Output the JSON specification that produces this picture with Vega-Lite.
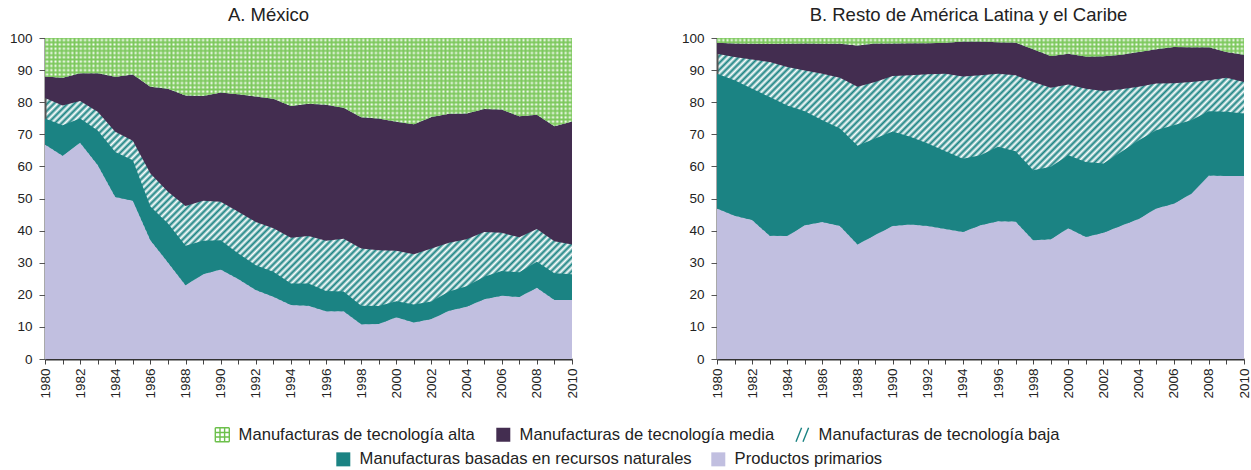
{
  "$schema": "https://vega.github.io/schema/vega-lite/v6.json",
  "background": "white",
  "padding": {"left": 9, "right": 5, "top": 5, "bottom": 5},
  "params": [
    {"name": "gridv", "value": {"gradient": "linear", "x1": 0, "y1": 0, "x2": 1, "y2": 0, "stops": [
      {"offset":0,"color":"#7cc85c"},{"offset":0.004,"color":"#fff"},{"offset":0.008,"color":"#7cc85c"},{"offset":0.012,"color":"#fff"},{"offset":0.016,"color":"#7cc85c"},{"offset":0.02,"color":"#fff"},{"offset":0.024,"color":"#7cc85c"},{"offset":0.028,"color":"#fff"},{"offset":0.032,"color":"#7cc85c"},{"offset":0.036,"color":"#fff"},
      {"offset":0.04,"color":"#7cc85c"},{"offset":0.044,"color":"#fff"},{"offset":0.048,"color":"#7cc85c"},{"offset":0.052,"color":"#fff"},{"offset":0.056,"color":"#7cc85c"},{"offset":0.06,"color":"#fff"},{"offset":0.064,"color":"#7cc85c"},{"offset":0.068,"color":"#fff"},{"offset":0.072,"color":"#7cc85c"},{"offset":0.076,"color":"#fff"},
      {"offset":0.08,"color":"#7cc85c"},{"offset":0.084,"color":"#fff"},{"offset":0.088,"color":"#7cc85c"},{"offset":0.092,"color":"#fff"},{"offset":0.096,"color":"#7cc85c"},{"offset":0.1,"color":"#fff"},{"offset":0.104,"color":"#7cc85c"},{"offset":0.108,"color":"#fff"},{"offset":0.112,"color":"#7cc85c"},{"offset":0.116,"color":"#fff"},
      {"offset":0.12,"color":"#7cc85c"},{"offset":0.124,"color":"#fff"},{"offset":0.128,"color":"#7cc85c"},{"offset":0.132,"color":"#fff"},{"offset":0.136,"color":"#7cc85c"},{"offset":0.14,"color":"#fff"},{"offset":0.144,"color":"#7cc85c"},{"offset":0.148,"color":"#fff"},{"offset":0.152,"color":"#7cc85c"},{"offset":0.156,"color":"#fff"},
      {"offset":0.16,"color":"#7cc85c"},{"offset":0.164,"color":"#fff"},{"offset":0.168,"color":"#7cc85c"},{"offset":0.172,"color":"#fff"},{"offset":0.176,"color":"#7cc85c"},{"offset":0.18,"color":"#fff"},{"offset":0.184,"color":"#7cc85c"},{"offset":0.188,"color":"#fff"},{"offset":0.192,"color":"#7cc85c"},{"offset":0.196,"color":"#fff"},
      {"offset":0.2,"color":"#7cc85c"},{"offset":0.204,"color":"#fff"},{"offset":0.208,"color":"#7cc85c"},{"offset":0.212,"color":"#fff"},{"offset":0.216,"color":"#7cc85c"},{"offset":0.22,"color":"#fff"},{"offset":0.224,"color":"#7cc85c"},{"offset":0.228,"color":"#fff"},{"offset":0.232,"color":"#7cc85c"},{"offset":0.236,"color":"#fff"},
      {"offset":0.24,"color":"#7cc85c"},{"offset":0.244,"color":"#fff"},{"offset":0.248,"color":"#7cc85c"},{"offset":0.252,"color":"#fff"},{"offset":0.256,"color":"#7cc85c"},{"offset":0.26,"color":"#fff"},{"offset":0.264,"color":"#7cc85c"},{"offset":0.268,"color":"#fff"},{"offset":0.272,"color":"#7cc85c"},{"offset":0.276,"color":"#fff"},
      {"offset":0.28,"color":"#7cc85c"},{"offset":0.284,"color":"#fff"},{"offset":0.288,"color":"#7cc85c"},{"offset":0.292,"color":"#fff"},{"offset":0.296,"color":"#7cc85c"},{"offset":0.3,"color":"#fff"},{"offset":0.304,"color":"#7cc85c"},{"offset":0.308,"color":"#fff"},{"offset":0.312,"color":"#7cc85c"},{"offset":0.316,"color":"#fff"},
      {"offset":0.32,"color":"#7cc85c"},{"offset":0.324,"color":"#fff"},{"offset":0.328,"color":"#7cc85c"},{"offset":0.332,"color":"#fff"},{"offset":0.336,"color":"#7cc85c"},{"offset":0.34,"color":"#fff"},{"offset":0.344,"color":"#7cc85c"},{"offset":0.348,"color":"#fff"},{"offset":0.352,"color":"#7cc85c"},{"offset":0.356,"color":"#fff"},
      {"offset":0.36,"color":"#7cc85c"},{"offset":0.364,"color":"#fff"},{"offset":0.368,"color":"#7cc85c"},{"offset":0.372,"color":"#fff"},{"offset":0.376,"color":"#7cc85c"},{"offset":0.38,"color":"#fff"},{"offset":0.384,"color":"#7cc85c"},{"offset":0.388,"color":"#fff"},{"offset":0.392,"color":"#7cc85c"},{"offset":0.396,"color":"#fff"},
      {"offset":0.4,"color":"#7cc85c"},{"offset":0.404,"color":"#fff"},{"offset":0.408,"color":"#7cc85c"},{"offset":0.412,"color":"#fff"},{"offset":0.416,"color":"#7cc85c"},{"offset":0.42,"color":"#fff"},{"offset":0.424,"color":"#7cc85c"},{"offset":0.428,"color":"#fff"},{"offset":0.432,"color":"#7cc85c"},{"offset":0.436,"color":"#fff"},
      {"offset":0.44,"color":"#7cc85c"},{"offset":0.444,"color":"#fff"},{"offset":0.448,"color":"#7cc85c"},{"offset":0.452,"color":"#fff"},{"offset":0.456,"color":"#7cc85c"},{"offset":0.46,"color":"#fff"},{"offset":0.464,"color":"#7cc85c"},{"offset":0.468,"color":"#fff"},{"offset":0.472,"color":"#7cc85c"},{"offset":0.476,"color":"#fff"},
      {"offset":0.48,"color":"#7cc85c"},{"offset":0.484,"color":"#fff"},{"offset":0.488,"color":"#7cc85c"},{"offset":0.492,"color":"#fff"},{"offset":0.496,"color":"#7cc85c"},{"offset":0.5,"color":"#fff"},{"offset":0.504,"color":"#7cc85c"},{"offset":0.508,"color":"#fff"},{"offset":0.512,"color":"#7cc85c"},{"offset":0.516,"color":"#fff"},
      {"offset":0.52,"color":"#7cc85c"},{"offset":0.524,"color":"#fff"},{"offset":0.528,"color":"#7cc85c"},{"offset":0.532,"color":"#fff"},{"offset":0.536,"color":"#7cc85c"},{"offset":0.54,"color":"#fff"},{"offset":0.544,"color":"#7cc85c"},{"offset":0.548,"color":"#fff"},{"offset":0.552,"color":"#7cc85c"},{"offset":0.556,"color":"#fff"},
      {"offset":0.56,"color":"#7cc85c"},{"offset":0.564,"color":"#fff"},{"offset":0.568,"color":"#7cc85c"},{"offset":0.572,"color":"#fff"},{"offset":0.576,"color":"#7cc85c"},{"offset":0.58,"color":"#fff"},{"offset":0.584,"color":"#7cc85c"},{"offset":0.588,"color":"#fff"},{"offset":0.592,"color":"#7cc85c"},{"offset":0.596,"color":"#fff"},
      {"offset":0.6,"color":"#7cc85c"},{"offset":0.604,"color":"#fff"},{"offset":0.608,"color":"#7cc85c"},{"offset":0.612,"color":"#fff"},{"offset":0.616,"color":"#7cc85c"},{"offset":0.62,"color":"#fff"},{"offset":0.624,"color":"#7cc85c"},{"offset":0.628,"color":"#fff"},{"offset":0.632,"color":"#7cc85c"},{"offset":0.636,"color":"#fff"},
      {"offset":0.64,"color":"#7cc85c"},{"offset":0.644,"color":"#fff"},{"offset":0.648,"color":"#7cc85c"},{"offset":0.652,"color":"#fff"},{"offset":0.656,"color":"#7cc85c"},{"offset":0.66,"color":"#fff"},{"offset":0.664,"color":"#7cc85c"},{"offset":0.668,"color":"#fff"},{"offset":0.672,"color":"#7cc85c"},{"offset":0.676,"color":"#fff"},
      {"offset":0.68,"color":"#7cc85c"},{"offset":0.684,"color":"#fff"},{"offset":0.688,"color":"#7cc85c"},{"offset":0.692,"color":"#fff"},{"offset":0.696,"color":"#7cc85c"},{"offset":0.7,"color":"#fff"},{"offset":0.704,"color":"#7cc85c"},{"offset":0.708,"color":"#fff"},{"offset":0.712,"color":"#7cc85c"},{"offset":0.716,"color":"#fff"},
      {"offset":0.72,"color":"#7cc85c"},{"offset":0.724,"color":"#fff"},{"offset":0.728,"color":"#7cc85c"},{"offset":0.732,"color":"#fff"},{"offset":0.736,"color":"#7cc85c"},{"offset":0.74,"color":"#fff"},{"offset":0.744,"color":"#7cc85c"},{"offset":0.748,"color":"#fff"},{"offset":0.752,"color":"#7cc85c"},{"offset":0.756,"color":"#fff"},
      {"offset":0.76,"color":"#7cc85c"},{"offset":0.764,"color":"#fff"},{"offset":0.768,"color":"#7cc85c"},{"offset":0.772,"color":"#fff"},{"offset":0.776,"color":"#7cc85c"},{"offset":0.78,"color":"#fff"},{"offset":0.784,"color":"#7cc85c"},{"offset":0.788,"color":"#fff"},{"offset":0.792,"color":"#7cc85c"},{"offset":0.796,"color":"#fff"},
      {"offset":0.8,"color":"#7cc85c"},{"offset":0.804,"color":"#fff"},{"offset":0.808,"color":"#7cc85c"},{"offset":0.812,"color":"#fff"},{"offset":0.816,"color":"#7cc85c"},{"offset":0.82,"color":"#fff"},{"offset":0.824,"color":"#7cc85c"},{"offset":0.828,"color":"#fff"},{"offset":0.832,"color":"#7cc85c"},{"offset":0.836,"color":"#fff"},
      {"offset":0.84,"color":"#7cc85c"},{"offset":0.844,"color":"#fff"},{"offset":0.848,"color":"#7cc85c"},{"offset":0.852,"color":"#fff"},{"offset":0.856,"color":"#7cc85c"},{"offset":0.86,"color":"#fff"},{"offset":0.864,"color":"#7cc85c"},{"offset":0.868,"color":"#fff"},{"offset":0.872,"color":"#7cc85c"},{"offset":0.876,"color":"#fff"},
      {"offset":0.88,"color":"#7cc85c"},{"offset":0.884,"color":"#fff"},{"offset":0.888,"color":"#7cc85c"},{"offset":0.892,"color":"#fff"},{"offset":0.896,"color":"#7cc85c"},{"offset":0.9,"color":"#fff"},{"offset":0.904,"color":"#7cc85c"},{"offset":0.908,"color":"#fff"},{"offset":0.912,"color":"#7cc85c"},{"offset":0.916,"color":"#fff"},
      {"offset":0.92,"color":"#7cc85c"},{"offset":0.924,"color":"#fff"},{"offset":0.928,"color":"#7cc85c"},{"offset":0.932,"color":"#fff"},{"offset":0.936,"color":"#7cc85c"},{"offset":0.94,"color":"#fff"},{"offset":0.944,"color":"#7cc85c"},{"offset":0.948,"color":"#fff"},{"offset":0.952,"color":"#7cc85c"},{"offset":0.956,"color":"#fff"},
      {"offset":0.96,"color":"#7cc85c"},{"offset":0.964,"color":"#fff"},{"offset":0.968,"color":"#7cc85c"},{"offset":0.972,"color":"#fff"},{"offset":0.976,"color":"#7cc85c"},{"offset":0.98,"color":"#fff"},{"offset":0.984,"color":"#7cc85c"},{"offset":0.988,"color":"#fff"},{"offset":0.992,"color":"#7cc85c"},{"offset":0.996,"color":"#fff"},
      {"offset":1,"color":"#7cc85c"}
    ]}}
  ],
  "datasets": {
    "mexico": [
      {"year":1980,"cat":"prim","share":66.8},{"year":1980,"cat":"rec","share":8.1},{"year":1980,"cat":"baja","share":6.4},{"year":1980,"cat":"media","share":6.7},{"year":1980,"cat":"alta","share":12.0},
      {"year":1981,"cat":"prim","share":63.3},{"year":1981,"cat":"rec","share":9.5},{"year":1981,"cat":"baja","share":6.2},{"year":1981,"cat":"media","share":8.6},{"year":1981,"cat":"alta","share":12.4},
      {"year":1982,"cat":"prim","share":67.4},{"year":1982,"cat":"rec","share":7.5},{"year":1982,"cat":"baja","share":5.5},{"year":1982,"cat":"media","share":8.6},{"year":1982,"cat":"alta","share":11.0},
      {"year":1983,"cat":"prim","share":60.4},{"year":1983,"cat":"rec","share":10.8},{"year":1983,"cat":"baja","share":5.8},{"year":1983,"cat":"media","share":12.0},{"year":1983,"cat":"alta","share":11.0},
      {"year":1984,"cat":"prim","share":50.5},{"year":1984,"cat":"rec","share":14.0},{"year":1984,"cat":"baja","share":6.3},{"year":1984,"cat":"media","share":17.1},{"year":1984,"cat":"alta","share":12.1},
      {"year":1985,"cat":"prim","share":49.3},{"year":1985,"cat":"rec","share":12.6},{"year":1985,"cat":"baja","share":6.1},{"year":1985,"cat":"media","share":20.6},{"year":1985,"cat":"alta","share":11.4},
      {"year":1986,"cat":"prim","share":37.0},{"year":1986,"cat":"rec","share":10.5},{"year":1986,"cat":"baja","share":10.3},{"year":1986,"cat":"media","share":27.0},{"year":1986,"cat":"alta","share":15.2},
      {"year":1987,"cat":"prim","share":30.1},{"year":1987,"cat":"rec","share":12.1},{"year":1987,"cat":"baja","share":9.9},{"year":1987,"cat":"media","share":32.1},{"year":1987,"cat":"alta","share":15.8},
      {"year":1988,"cat":"prim","share":23.0},{"year":1988,"cat":"rec","share":12.3},{"year":1988,"cat":"baja","share":12.4},{"year":1988,"cat":"media","share":34.4},{"year":1988,"cat":"alta","share":17.9},
      {"year":1989,"cat":"prim","share":26.4},{"year":1989,"cat":"rec","share":10.4},{"year":1989,"cat":"baja","share":12.5},{"year":1989,"cat":"media","share":32.6},{"year":1989,"cat":"alta","share":18.1},
      {"year":1990,"cat":"prim","share":27.9},{"year":1990,"cat":"rec","share":9.1},{"year":1990,"cat":"baja","share":12.0},{"year":1990,"cat":"media","share":34.0},{"year":1990,"cat":"alta","share":17.0},
      {"year":1991,"cat":"prim","share":24.9},{"year":1991,"cat":"rec","share":8.0},{"year":1991,"cat":"baja","share":13.0},{"year":1991,"cat":"media","share":36.6},{"year":1991,"cat":"alta","share":17.5},
      {"year":1992,"cat":"prim","share":21.5},{"year":1992,"cat":"rec","share":7.7},{"year":1992,"cat":"baja","share":13.5},{"year":1992,"cat":"media","share":39.1},{"year":1992,"cat":"alta","share":18.2},
      {"year":1993,"cat":"prim","share":19.4},{"year":1993,"cat":"rec","share":7.8},{"year":1993,"cat":"baja","share":13.5},{"year":1993,"cat":"media","share":40.4},{"year":1993,"cat":"alta","share":18.9},
      {"year":1994,"cat":"prim","share":16.8},{"year":1994,"cat":"rec","share":6.7},{"year":1994,"cat":"baja","share":14.3},{"year":1994,"cat":"media","share":41.0},{"year":1994,"cat":"alta","share":21.2},
      {"year":1995,"cat":"prim","share":16.6},{"year":1995,"cat":"rec","share":6.9},{"year":1995,"cat":"baja","share":14.8},{"year":1995,"cat":"media","share":41.2},{"year":1995,"cat":"alta","share":20.5},
      {"year":1996,"cat":"prim","share":14.9},{"year":1996,"cat":"rec","share":6.3},{"year":1996,"cat":"baja","share":15.6},{"year":1996,"cat":"media","share":42.4},{"year":1996,"cat":"alta","share":20.8},
      {"year":1997,"cat":"prim","share":14.9},{"year":1997,"cat":"rec","share":6.1},{"year":1997,"cat":"baja","share":16.5},{"year":1997,"cat":"media","share":40.8},{"year":1997,"cat":"alta","share":21.7},
      {"year":1998,"cat":"prim","share":10.8},{"year":1998,"cat":"rec","share":5.8},{"year":1998,"cat":"baja","share":17.8},{"year":1998,"cat":"media","share":40.9},{"year":1998,"cat":"alta","share":24.7},
      {"year":1999,"cat":"prim","share":10.9},{"year":1999,"cat":"rec","share":5.6},{"year":1999,"cat":"baja","share":17.4},{"year":1999,"cat":"media","share":41.0},{"year":1999,"cat":"alta","share":25.1},
      {"year":2000,"cat":"prim","share":13.0},{"year":2000,"cat":"rec","share":5.0},{"year":2000,"cat":"baja","share":15.7},{"year":2000,"cat":"media","share":40.2},{"year":2000,"cat":"alta","share":26.1},
      {"year":2001,"cat":"prim","share":11.4},{"year":2001,"cat":"rec","share":5.6},{"year":2001,"cat":"baja","share":15.6},{"year":2001,"cat":"media","share":40.5},{"year":2001,"cat":"alta","share":26.9},
      {"year":2002,"cat":"prim","share":12.5},{"year":2002,"cat":"rec","share":5.4},{"year":2002,"cat":"baja","share":16.5},{"year":2002,"cat":"media","share":41.0},{"year":2002,"cat":"alta","share":24.6},
      {"year":2003,"cat":"prim","share":15.0},{"year":2003,"cat":"rec","share":6.0},{"year":2003,"cat":"baja","share":15.2},{"year":2003,"cat":"media","share":40.2},{"year":2003,"cat":"alta","share":23.6},
      {"year":2004,"cat":"prim","share":16.3},{"year":2004,"cat":"rec","share":6.4},{"year":2004,"cat":"baja","share":14.6},{"year":2004,"cat":"media","share":39.2},{"year":2004,"cat":"alta","share":23.5},
      {"year":2005,"cat":"prim","share":18.6},{"year":2005,"cat":"rec","share":7.0},{"year":2005,"cat":"baja","share":14.0},{"year":2005,"cat":"media","share":38.3},{"year":2005,"cat":"alta","share":22.1},
      {"year":2006,"cat":"prim","share":19.7},{"year":2006,"cat":"rec","share":7.7},{"year":2006,"cat":"baja","share":11.9},{"year":2006,"cat":"media","share":38.4},{"year":2006,"cat":"alta","share":22.3},
      {"year":2007,"cat":"prim","share":19.3},{"year":2007,"cat":"rec","share":7.7},{"year":2007,"cat":"baja","share":10.9},{"year":2007,"cat":"media","share":37.7},{"year":2007,"cat":"alta","share":24.4},
      {"year":2008,"cat":"prim","share":22.2},{"year":2008,"cat":"rec","share":8.1},{"year":2008,"cat":"baja","share":10.2},{"year":2008,"cat":"media","share":35.6},{"year":2008,"cat":"alta","share":23.9},
      {"year":2009,"cat":"prim","share":18.4},{"year":2009,"cat":"rec","share":8.3},{"year":2009,"cat":"baja","share":10.0},{"year":2009,"cat":"media","share":35.8},{"year":2009,"cat":"alta","share":27.5},
      {"year":2010,"cat":"prim","share":18.4},{"year":2010,"cat":"rec","share":8.0},{"year":2010,"cat":"baja","share":9.3},{"year":2010,"cat":"media","share":38.3},{"year":2010,"cat":"alta","share":26.0}
    ],
    "resto": [
      {"year":1980,"cat":"prim","share":46.9},{"year":1980,"cat":"rec","share":42.0},{"year":1980,"cat":"baja","share":6.2},{"year":1980,"cat":"media","share":3.4},{"year":1980,"cat":"alta","share":1.5},
      {"year":1981,"cat":"prim","share":44.6},{"year":1981,"cat":"rec","share":42.2},{"year":1981,"cat":"baja","share":7.3},{"year":1981,"cat":"media","share":4.2},{"year":1981,"cat":"alta","share":1.7},
      {"year":1982,"cat":"prim","share":43.3},{"year":1982,"cat":"rec","share":40.9},{"year":1982,"cat":"baja","share":9.1},{"year":1982,"cat":"media","share":4.9},{"year":1982,"cat":"alta","share":1.8},
      {"year":1983,"cat":"prim","share":38.4},{"year":1983,"cat":"rec","share":43.2},{"year":1983,"cat":"baja","share":10.9},{"year":1983,"cat":"media","share":5.6},{"year":1983,"cat":"alta","share":1.9},
      {"year":1984,"cat":"prim","share":38.3},{"year":1984,"cat":"rec","share":40.7},{"year":1984,"cat":"baja","share":12.0},{"year":1984,"cat":"media","share":7.2},{"year":1984,"cat":"alta","share":1.8},
      {"year":1985,"cat":"prim","share":41.7},{"year":1985,"cat":"rec","share":35.5},{"year":1985,"cat":"baja","share":12.7},{"year":1985,"cat":"media","share":8.4},{"year":1985,"cat":"alta","share":1.7},
      {"year":1986,"cat":"prim","share":42.7},{"year":1986,"cat":"rec","share":31.7},{"year":1986,"cat":"baja","share":14.5},{"year":1986,"cat":"media","share":9.3},{"year":1986,"cat":"alta","share":1.8},
      {"year":1987,"cat":"prim","share":41.4},{"year":1987,"cat":"rec","share":30.4},{"year":1987,"cat":"baja","share":15.8},{"year":1987,"cat":"media","share":10.6},{"year":1987,"cat":"alta","share":1.8},
      {"year":1988,"cat":"prim","share":35.7},{"year":1988,"cat":"rec","share":30.7},{"year":1988,"cat":"baja","share":18.4},{"year":1988,"cat":"media","share":12.9},{"year":1988,"cat":"alta","share":2.3},
      {"year":1989,"cat":"prim","share":38.6},{"year":1989,"cat":"rec","share":30.1},{"year":1989,"cat":"baja","share":17.6},{"year":1989,"cat":"media","share":12.0},{"year":1989,"cat":"alta","share":1.7},
      {"year":1990,"cat":"prim","share":41.4},{"year":1990,"cat":"rec","share":29.5},{"year":1990,"cat":"baja","share":17.3},{"year":1990,"cat":"media","share":10.1},{"year":1990,"cat":"alta","share":1.7},
      {"year":1991,"cat":"prim","share":41.9},{"year":1991,"cat":"rec","share":27.3},{"year":1991,"cat":"baja","share":19.2},{"year":1991,"cat":"media","share":10.0},{"year":1991,"cat":"alta","share":1.6},
      {"year":1992,"cat":"prim","share":41.4},{"year":1992,"cat":"rec","share":25.7},{"year":1992,"cat":"baja","share":21.6},{"year":1992,"cat":"media","share":9.7},{"year":1992,"cat":"alta","share":1.6},
      {"year":1993,"cat":"prim","share":40.5},{"year":1993,"cat":"rec","share":24.2},{"year":1993,"cat":"baja","share":24.2},{"year":1993,"cat":"media","share":9.6},{"year":1993,"cat":"alta","share":1.5},
      {"year":1994,"cat":"prim","share":39.6},{"year":1994,"cat":"rec","share":22.8},{"year":1994,"cat":"baja","share":25.6},{"year":1994,"cat":"media","share":10.9},{"year":1994,"cat":"alta","share":1.1},
      {"year":1995,"cat":"prim","share":41.7},{"year":1995,"cat":"rec","share":21.8},{"year":1995,"cat":"baja","share":24.9},{"year":1995,"cat":"media","share":10.5},{"year":1995,"cat":"alta","share":1.1},
      {"year":1996,"cat":"prim","share":42.9},{"year":1996,"cat":"rec","share":23.2},{"year":1996,"cat":"baja","share":22.8},{"year":1996,"cat":"media","share":9.8},{"year":1996,"cat":"alta","share":1.3},
      {"year":1997,"cat":"prim","share":42.8},{"year":1997,"cat":"rec","share":21.9},{"year":1997,"cat":"baja","share":23.7},{"year":1997,"cat":"media","share":10.2},{"year":1997,"cat":"alta","share":1.4},
      {"year":1998,"cat":"prim","share":37.0},{"year":1998,"cat":"rec","share":21.8},{"year":1998,"cat":"baja","share":27.5},{"year":1998,"cat":"media","share":10.2},{"year":1998,"cat":"alta","share":3.5},
      {"year":1999,"cat":"prim","share":37.3},{"year":1999,"cat":"rec","share":22.6},{"year":1999,"cat":"baja","share":24.6},{"year":1999,"cat":"media","share":9.9},{"year":1999,"cat":"alta","share":5.6},
      {"year":2000,"cat":"prim","share":40.7},{"year":2000,"cat":"rec","share":22.8},{"year":2000,"cat":"baja","share":22.0},{"year":2000,"cat":"media","share":9.6},{"year":2000,"cat":"alta","share":4.9},
      {"year":2001,"cat":"prim","share":38.0},{"year":2001,"cat":"rec","share":23.4},{"year":2001,"cat":"baja","share":22.8},{"year":2001,"cat":"media","share":10.0},{"year":2001,"cat":"alta","share":5.8},
      {"year":2002,"cat":"prim","share":39.3},{"year":2002,"cat":"rec","share":21.6},{"year":2002,"cat":"baja","share":22.6},{"year":2002,"cat":"media","share":10.8},{"year":2002,"cat":"alta","share":5.7},
      {"year":2003,"cat":"prim","share":41.5},{"year":2003,"cat":"rec","share":23.0},{"year":2003,"cat":"baja","share":19.5},{"year":2003,"cat":"media","share":10.8},{"year":2003,"cat":"alta","share":5.2},
      {"year":2004,"cat":"prim","share":43.6},{"year":2004,"cat":"rec","share":24.5},{"year":2004,"cat":"baja","share":16.7},{"year":2004,"cat":"media","share":10.8},{"year":2004,"cat":"alta","share":4.4},
      {"year":2005,"cat":"prim","share":46.9},{"year":2005,"cat":"rec","share":24.4},{"year":2005,"cat":"baja","share":14.5},{"year":2005,"cat":"media","share":10.7},{"year":2005,"cat":"alta","share":3.5},
      {"year":2006,"cat":"prim","share":48.4},{"year":2006,"cat":"rec","share":24.4},{"year":2006,"cat":"baja","share":13.1},{"year":2006,"cat":"media","share":11.3},{"year":2006,"cat":"alta","share":2.8},
      {"year":2007,"cat":"prim","share":51.5},{"year":2007,"cat":"rec","share":22.9},{"year":2007,"cat":"baja","share":11.9},{"year":2007,"cat":"media","share":10.8},{"year":2007,"cat":"alta","share":2.9},
      {"year":2008,"cat":"prim","share":57.2},{"year":2008,"cat":"rec","share":20.0},{"year":2008,"cat":"baja","share":9.6},{"year":2008,"cat":"media","share":10.3},{"year":2008,"cat":"alta","share":2.9},
      {"year":2009,"cat":"prim","share":57.0},{"year":2009,"cat":"rec","share":20.0},{"year":2009,"cat":"baja","share":10.6},{"year":2009,"cat":"media","share":8.0},{"year":2009,"cat":"alta","share":4.4},
      {"year":2010,"cat":"prim","share":57.0},{"year":2010,"cat":"rec","share":19.5},{"year":2010,"cat":"baja","share":9.8},{"year":2010,"cat":"media","share":8.5},{"year":2010,"cat":"alta","share":5.2}
    ]
  },
  "spacing": 102,
  "hconcat": [
    {
      "width": 527,
      "height": 321,
      "title": {"text": "A. México", "dx": -40},
      "data": {"name": "mexico"},
      "transform": [{"stack": "share", "groupby": ["year"], "as": ["s0", "s1"]}],
      "encoding": {
        "x": {"field": "year", "type": "quantitative", "scale": {"domain": [1980, 2010], "nice": false, "zero": false},
          "axis": {"values": [1980,1981,1982,1983,1984,1985,1986,1987,1988,1989,1990,1991,1992,1993,1994,1995,1996,1997,1998,1999,2000,2001,2002,2003,2004,2005,2006,2007,2008,2009,2010], "format": "d", "labelExpr": "datum.value % 2 === 0 ? datum.label : ''", "labelAngle": -90, "labelPadding": 4, "tickSize": 5, "domainColor": "#333", "domainWidth": 2, "tickColor": "#444", "labelOverlap": false, "labelBound": false, "labelFlush": false}},
        "y": {"field": "s1", "type": "quantitative", "scale": {"domain": [0, 100], "nice": false},
          "axis": {"values": [0,10,20,30,40,50,60,70,80,90,100], "labelPadding": 7, "tickSize": 6, "domainColor": "#555", "domainWidth": 2, "tickColor": "#555"}},
        "y2": {"field": "s0"}
      },
      "layer": [
        {"transform": [{"filter": "datum.cat === 'prim' || datum.cat === 'rec'"}], "mark": {"type": "area"},
          "encoding": {"color": {"field": "cat", "type": "nominal", "scale": {"domain": ["rec", "prim"], "range": ["#1b8383", "#c1bfe0"]},
            "legend": {"title": null, "orient": "none", "legendX": 290, "legendY": 413, "direction": "horizontal", "labelLimit": 0, "symbolType": "square",
              "labelExpr": "datum.value === 'rec' ? 'Manufacturas basadas en recursos naturales' : 'Productos primarios'"}}}},
        {"transform": [{"filter": "datum.cat === 'media'"}], "mark": {"type": "area"},
          "encoding": {"fill": {"field": "cat", "type": "nominal", "scale": {"domain": ["alta", "media", "baja"], "range": ["#6cc04b", "#432d50", "#1b8383"]},
            "legend": {"title": null, "orient": "none", "legendX": 169, "legendY": 388, "direction": "horizontal", "labelLimit": 0,
              "labelExpr": "datum.value === 'alta' ? 'Manufacturas de tecnología alta' : datum.value === 'media' ? 'Manufacturas de tecnología media' : 'Manufacturas de tecnología baja'",
              "symbolType": {"expr": "datum.value === 'alta' ? 'M-1,-1H1M-1,-0.33H1M-1,0.33H1M-1,1H1M-1,-1V1M-0.33,-1V1M0.33,-1V1M1,-1V1' : datum.value === 'baja' ? 'M-0.9,1L-0.1,-1M0.1,1L0.9,-1' : 'square'"},
              "symbolStrokeColor": {"expr": "datum.value === 'alta' ? '#6cc04b' : datum.value === 'baja' ? '#1b8383' : 'transparent'"},
              "symbolStrokeWidth": 1.4}}}},
        {"transform": [{"filter": "datum.cat === 'alta'"}], "mark": {"type": "area", "fill": {"expr": "gridv"}}},
        {"transform": [{"filter": "datum.cat === 'alta'"}], "mark": {"type": "area", "fill": {"gradient": "linear", "x1": 0, "y1": 0, "x2": 0, "y2": 1, "stops": [
          {"offset":0,"color":"#7cc85c"},{"offset":0.0243,"color":"rgba(124,200,92,0)"},{"offset":0.0486,"color":"#7cc85c"},{"offset":0.0729,"color":"rgba(124,200,92,0)"},{"offset":0.0972,"color":"#7cc85c"},{"offset":0.1215,"color":"rgba(124,200,92,0)"},{"offset":0.1458,"color":"#7cc85c"},{"offset":0.1701,"color":"rgba(124,200,92,0)"},{"offset":0.1944,"color":"#7cc85c"},{"offset":0.2187,"color":"rgba(124,200,92,0)"},
          {"offset":0.243,"color":"#7cc85c"},{"offset":0.2673,"color":"rgba(124,200,92,0)"},{"offset":0.2916,"color":"#7cc85c"},{"offset":0.3159,"color":"rgba(124,200,92,0)"},{"offset":0.3402,"color":"#7cc85c"},{"offset":0.3645,"color":"rgba(124,200,92,0)"},{"offset":0.3888,"color":"#7cc85c"},{"offset":0.4131,"color":"rgba(124,200,92,0)"},{"offset":0.4374,"color":"#7cc85c"},{"offset":0.4617,"color":"rgba(124,200,92,0)"},
          {"offset":0.486,"color":"#7cc85c"},{"offset":0.5103,"color":"rgba(124,200,92,0)"},{"offset":0.5346,"color":"#7cc85c"},{"offset":0.5589,"color":"rgba(124,200,92,0)"},{"offset":0.5832,"color":"#7cc85c"},{"offset":0.6075,"color":"rgba(124,200,92,0)"},{"offset":0.6318,"color":"#7cc85c"},{"offset":0.6561,"color":"rgba(124,200,92,0)"},{"offset":0.6804,"color":"#7cc85c"},{"offset":0.7047,"color":"rgba(124,200,92,0)"},
          {"offset":0.729,"color":"#7cc85c"},{"offset":0.7533,"color":"rgba(124,200,92,0)"},{"offset":0.7776,"color":"#7cc85c"},{"offset":0.8019,"color":"rgba(124,200,92,0)"},{"offset":0.8262,"color":"#7cc85c"},{"offset":0.8505,"color":"rgba(124,200,92,0)"},{"offset":0.8748,"color":"#7cc85c"},{"offset":0.8991,"color":"rgba(124,200,92,0)"},{"offset":0.9234,"color":"#7cc85c"},{"offset":0.9477,"color":"rgba(124,200,92,0)"},
          {"offset":0.972,"color":"#7cc85c"},{"offset":0.9963,"color":"rgba(124,200,92,0)"}
        ]}}}
      ]
    },
    {
      "width": 527,
      "height": 321,
      "title": {"text": "B. Resto de América Latina y el Caribe", "dx": -12},
      "data": {"name": "resto"},
      "transform": [{"stack": "share", "groupby": ["year"], "as": ["s0", "s1"]}],
      "encoding": {
        "x": {"field": "year", "type": "quantitative", "scale": {"domain": [1980, 2010], "nice": false, "zero": false},
          "axis": {"values": [1980,1981,1982,1983,1984,1985,1986,1987,1988,1989,1990,1991,1992,1993,1994,1995,1996,1997,1998,1999,2000,2001,2002,2003,2004,2005,2006,2007,2008,2009,2010], "format": "d", "labelExpr": "datum.value % 2 === 0 ? datum.label : ''", "labelAngle": -90, "labelPadding": 4, "tickSize": 5, "domainColor": "#333", "domainWidth": 2, "tickColor": "#444", "labelOverlap": false, "labelBound": false, "labelFlush": false}},
        "y": {"field": "s1", "type": "quantitative", "scale": {"domain": [0, 100], "nice": false},
          "axis": {"values": [0,10,20,30,40,50,60,70,80,90,100], "labelPadding": 7, "tickSize": 6, "domainColor": "#555", "domainWidth": 2, "tickColor": "#555"}},
        "y2": {"field": "s0"}
      },
      "layer": [
        {"transform": [{"filter": "datum.cat === 'prim' || datum.cat === 'rec'"}], "mark": {"type": "area"},
          "encoding": {"color": {"field": "cat", "type": "nominal"}}},
        {"transform": [{"filter": "datum.cat === 'media'"}], "mark": {"type": "area"},
          "encoding": {"fill": {"field": "cat", "type": "nominal"}}},
        {"transform": [{"filter": "datum.cat === 'alta'"}], "mark": {"type": "area", "fill": {"expr": "gridv"}}},
        {"transform": [{"filter": "datum.cat === 'alta'"}], "mark": {"type": "area", "fill": {"gradient": "linear", "x1": 0, "y1": 0, "x2": 0, "y2": 1, "stops": [
          {"offset":0,"color":"#7cc85c"},{"offset":0.1156,"color":"rgba(124,200,92,0)"},{"offset":0.2312,"color":"#7cc85c"},{"offset":0.3468,"color":"rgba(124,200,92,0)"},{"offset":0.4624,"color":"#7cc85c"},{"offset":0.578,"color":"rgba(124,200,92,0)"},{"offset":0.6936,"color":"#7cc85c"},{"offset":0.8092,"color":"rgba(124,200,92,0)"},{"offset":0.9248,"color":"#7cc85c"}
        ]}}}
      ]
    }
  ],
  "config": {
    "font": "Liberation Sans",
    "view": {"stroke": null, "fill": {"gradient": "linear", "x1": 0, "y1": 0, "x2": 1.1737, "y2": 0.7149, "stops": [
      {"offset":0,"color":"#1b8383"},{"offset":0.004,"color":"#fff"},{"offset":0.008,"color":"#1b8383"},{"offset":0.012,"color":"#fff"},{"offset":0.016,"color":"#1b8383"},{"offset":0.02,"color":"#fff"},{"offset":0.024,"color":"#1b8383"},{"offset":0.028,"color":"#fff"},{"offset":0.032,"color":"#1b8383"},{"offset":0.036,"color":"#fff"},
      {"offset":0.04,"color":"#1b8383"},{"offset":0.044,"color":"#fff"},{"offset":0.048,"color":"#1b8383"},{"offset":0.052,"color":"#fff"},{"offset":0.056,"color":"#1b8383"},{"offset":0.06,"color":"#fff"},{"offset":0.064,"color":"#1b8383"},{"offset":0.068,"color":"#fff"},{"offset":0.072,"color":"#1b8383"},{"offset":0.076,"color":"#fff"},
      {"offset":0.08,"color":"#1b8383"},{"offset":0.084,"color":"#fff"},{"offset":0.088,"color":"#1b8383"},{"offset":0.092,"color":"#fff"},{"offset":0.096,"color":"#1b8383"},{"offset":0.1,"color":"#fff"},{"offset":0.104,"color":"#1b8383"},{"offset":0.108,"color":"#fff"},{"offset":0.112,"color":"#1b8383"},{"offset":0.116,"color":"#fff"},
      {"offset":0.12,"color":"#1b8383"},{"offset":0.124,"color":"#fff"},{"offset":0.128,"color":"#1b8383"},{"offset":0.132,"color":"#fff"},{"offset":0.136,"color":"#1b8383"},{"offset":0.14,"color":"#fff"},{"offset":0.144,"color":"#1b8383"},{"offset":0.148,"color":"#fff"},{"offset":0.152,"color":"#1b8383"},{"offset":0.156,"color":"#fff"},
      {"offset":0.16,"color":"#1b8383"},{"offset":0.164,"color":"#fff"},{"offset":0.168,"color":"#1b8383"},{"offset":0.172,"color":"#fff"},{"offset":0.176,"color":"#1b8383"},{"offset":0.18,"color":"#fff"},{"offset":0.184,"color":"#1b8383"},{"offset":0.188,"color":"#fff"},{"offset":0.192,"color":"#1b8383"},{"offset":0.196,"color":"#fff"},
      {"offset":0.2,"color":"#1b8383"},{"offset":0.204,"color":"#fff"},{"offset":0.208,"color":"#1b8383"},{"offset":0.212,"color":"#fff"},{"offset":0.216,"color":"#1b8383"},{"offset":0.22,"color":"#fff"},{"offset":0.224,"color":"#1b8383"},{"offset":0.228,"color":"#fff"},{"offset":0.232,"color":"#1b8383"},{"offset":0.236,"color":"#fff"},
      {"offset":0.24,"color":"#1b8383"},{"offset":0.244,"color":"#fff"},{"offset":0.248,"color":"#1b8383"},{"offset":0.252,"color":"#fff"},{"offset":0.256,"color":"#1b8383"},{"offset":0.26,"color":"#fff"},{"offset":0.264,"color":"#1b8383"},{"offset":0.268,"color":"#fff"},{"offset":0.272,"color":"#1b8383"},{"offset":0.276,"color":"#fff"},
      {"offset":0.28,"color":"#1b8383"},{"offset":0.284,"color":"#fff"},{"offset":0.288,"color":"#1b8383"},{"offset":0.292,"color":"#fff"},{"offset":0.296,"color":"#1b8383"},{"offset":0.3,"color":"#fff"},{"offset":0.304,"color":"#1b8383"},{"offset":0.308,"color":"#fff"},{"offset":0.312,"color":"#1b8383"},{"offset":0.316,"color":"#fff"},
      {"offset":0.32,"color":"#1b8383"},{"offset":0.324,"color":"#fff"},{"offset":0.328,"color":"#1b8383"},{"offset":0.332,"color":"#fff"},{"offset":0.336,"color":"#1b8383"},{"offset":0.34,"color":"#fff"},{"offset":0.344,"color":"#1b8383"},{"offset":0.348,"color":"#fff"},{"offset":0.352,"color":"#1b8383"},{"offset":0.356,"color":"#fff"},
      {"offset":0.36,"color":"#1b8383"},{"offset":0.364,"color":"#fff"},{"offset":0.368,"color":"#1b8383"},{"offset":0.372,"color":"#fff"},{"offset":0.376,"color":"#1b8383"},{"offset":0.38,"color":"#fff"},{"offset":0.384,"color":"#1b8383"},{"offset":0.388,"color":"#fff"},{"offset":0.392,"color":"#1b8383"},{"offset":0.396,"color":"#fff"},
      {"offset":0.4,"color":"#1b8383"},{"offset":0.404,"color":"#fff"},{"offset":0.408,"color":"#1b8383"},{"offset":0.412,"color":"#fff"},{"offset":0.416,"color":"#1b8383"},{"offset":0.42,"color":"#fff"},{"offset":0.424,"color":"#1b8383"},{"offset":0.428,"color":"#fff"},{"offset":0.432,"color":"#1b8383"},{"offset":0.436,"color":"#fff"},
      {"offset":0.44,"color":"#1b8383"},{"offset":0.444,"color":"#fff"},{"offset":0.448,"color":"#1b8383"},{"offset":0.452,"color":"#fff"},{"offset":0.456,"color":"#1b8383"},{"offset":0.46,"color":"#fff"},{"offset":0.464,"color":"#1b8383"},{"offset":0.468,"color":"#fff"},{"offset":0.472,"color":"#1b8383"},{"offset":0.476,"color":"#fff"},
      {"offset":0.48,"color":"#1b8383"},{"offset":0.484,"color":"#fff"},{"offset":0.488,"color":"#1b8383"},{"offset":0.492,"color":"#fff"},{"offset":0.496,"color":"#1b8383"},{"offset":0.5,"color":"#fff"},{"offset":0.504,"color":"#1b8383"},{"offset":0.508,"color":"#fff"},{"offset":0.512,"color":"#1b8383"},{"offset":0.516,"color":"#fff"},
      {"offset":0.52,"color":"#1b8383"},{"offset":0.524,"color":"#fff"},{"offset":0.528,"color":"#1b8383"},{"offset":0.532,"color":"#fff"},{"offset":0.536,"color":"#1b8383"},{"offset":0.54,"color":"#fff"},{"offset":0.544,"color":"#1b8383"},{"offset":0.548,"color":"#fff"},{"offset":0.552,"color":"#1b8383"},{"offset":0.556,"color":"#fff"},
      {"offset":0.56,"color":"#1b8383"},{"offset":0.564,"color":"#fff"},{"offset":0.568,"color":"#1b8383"},{"offset":0.572,"color":"#fff"},{"offset":0.576,"color":"#1b8383"},{"offset":0.58,"color":"#fff"},{"offset":0.584,"color":"#1b8383"},{"offset":0.588,"color":"#fff"},{"offset":0.592,"color":"#1b8383"},{"offset":0.596,"color":"#fff"},
      {"offset":0.6,"color":"#1b8383"},{"offset":0.604,"color":"#fff"},{"offset":0.608,"color":"#1b8383"},{"offset":0.612,"color":"#fff"},{"offset":0.616,"color":"#1b8383"},{"offset":0.62,"color":"#fff"},{"offset":0.624,"color":"#1b8383"},{"offset":0.628,"color":"#fff"},{"offset":0.632,"color":"#1b8383"},{"offset":0.636,"color":"#fff"},
      {"offset":0.64,"color":"#1b8383"},{"offset":0.644,"color":"#fff"},{"offset":0.648,"color":"#1b8383"},{"offset":0.652,"color":"#fff"},{"offset":0.656,"color":"#1b8383"},{"offset":0.66,"color":"#fff"},{"offset":0.664,"color":"#1b8383"},{"offset":0.668,"color":"#fff"},{"offset":0.672,"color":"#1b8383"},{"offset":0.676,"color":"#fff"},
      {"offset":0.68,"color":"#1b8383"},{"offset":0.684,"color":"#fff"},{"offset":0.688,"color":"#1b8383"},{"offset":0.692,"color":"#fff"},{"offset":0.696,"color":"#1b8383"},{"offset":0.7,"color":"#fff"},{"offset":0.704,"color":"#1b8383"},{"offset":0.708,"color":"#fff"},{"offset":0.712,"color":"#1b8383"},{"offset":0.716,"color":"#fff"},
      {"offset":0.72,"color":"#1b8383"},{"offset":0.724,"color":"#fff"},{"offset":0.728,"color":"#1b8383"},{"offset":0.732,"color":"#fff"},{"offset":0.736,"color":"#1b8383"},{"offset":0.74,"color":"#fff"},{"offset":0.744,"color":"#1b8383"},{"offset":0.748,"color":"#fff"},{"offset":0.752,"color":"#1b8383"},{"offset":0.756,"color":"#fff"},
      {"offset":0.76,"color":"#1b8383"},{"offset":0.764,"color":"#fff"},{"offset":0.768,"color":"#1b8383"},{"offset":0.772,"color":"#fff"},{"offset":0.776,"color":"#1b8383"},{"offset":0.78,"color":"#fff"},{"offset":0.784,"color":"#1b8383"},{"offset":0.788,"color":"#fff"},{"offset":0.792,"color":"#1b8383"},{"offset":0.796,"color":"#fff"},
      {"offset":0.8,"color":"#1b8383"},{"offset":0.804,"color":"#fff"},{"offset":0.808,"color":"#1b8383"},{"offset":0.812,"color":"#fff"},{"offset":0.816,"color":"#1b8383"},{"offset":0.82,"color":"#fff"},{"offset":0.824,"color":"#1b8383"},{"offset":0.828,"color":"#fff"},{"offset":0.832,"color":"#1b8383"},{"offset":0.836,"color":"#fff"},
      {"offset":0.84,"color":"#1b8383"},{"offset":0.844,"color":"#fff"},{"offset":0.848,"color":"#1b8383"},{"offset":0.852,"color":"#fff"},{"offset":0.856,"color":"#1b8383"},{"offset":0.86,"color":"#fff"},{"offset":0.864,"color":"#1b8383"},{"offset":0.868,"color":"#fff"},{"offset":0.872,"color":"#1b8383"},{"offset":0.876,"color":"#fff"},
      {"offset":0.88,"color":"#1b8383"},{"offset":0.884,"color":"#fff"},{"offset":0.888,"color":"#1b8383"},{"offset":0.892,"color":"#fff"},{"offset":0.896,"color":"#1b8383"},{"offset":0.9,"color":"#fff"},{"offset":0.904,"color":"#1b8383"},{"offset":0.908,"color":"#fff"},{"offset":0.912,"color":"#1b8383"},{"offset":0.916,"color":"#fff"},
      {"offset":0.92,"color":"#1b8383"},{"offset":0.924,"color":"#fff"},{"offset":0.928,"color":"#1b8383"},{"offset":0.932,"color":"#fff"},{"offset":0.936,"color":"#1b8383"},{"offset":0.94,"color":"#fff"},{"offset":0.944,"color":"#1b8383"},{"offset":0.948,"color":"#fff"},{"offset":0.952,"color":"#1b8383"},{"offset":0.956,"color":"#fff"},
      {"offset":0.96,"color":"#1b8383"},{"offset":0.964,"color":"#fff"},{"offset":0.968,"color":"#1b8383"},{"offset":0.972,"color":"#fff"},{"offset":0.976,"color":"#1b8383"},{"offset":0.98,"color":"#fff"},{"offset":0.984,"color":"#1b8383"},{"offset":0.988,"color":"#fff"},{"offset":0.992,"color":"#1b8383"},{"offset":0.996,"color":"#fff"},
      {"offset":1,"color":"#1b8383"}
    ]}},
    "area": {"interpolate": "linear"},
    "title": {"font": "Liberation Sans", "fontSize": 18.5, "fontWeight": "normal", "color": "#222", "offset": 7},
    "axis": {"labelFont": "Liberation Sans", "labelFontSize": 13.5, "labelColor": "#222", "title": null, "grid": false},
    "legend": {"labelFont": "Liberation Sans", "labelFontSize": 16.6, "labelColor": "#222", "symbolSize": 196, "labelOffset": 8, "columnPadding": 18}
  }
}
